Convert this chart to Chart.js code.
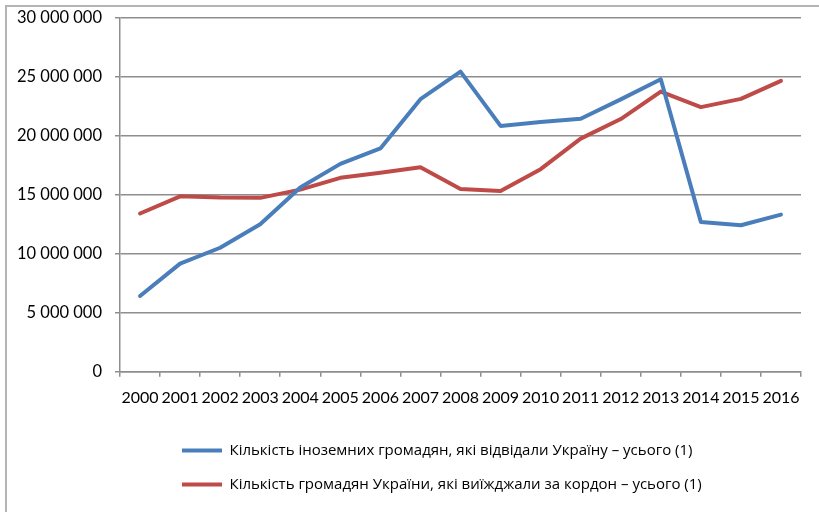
<!DOCTYPE html>
<html>
<head>
<meta charset="utf-8">
<script src="https://cdn.jsdelivr.net/npm/chart.js@4.4.1/dist/chart.umd.min.js"></script>
<style>
  html, body { margin: 0; padding: 0; background: #ffffff; }
  #frame { position: absolute; left: 5px; top: 5px; width: 820px; height: 520px;
           border-top: 2px solid #b4b4b4; border-left: 2px solid #b4b4b4; box-sizing: border-box; }
  #wrap { position: absolute; left: 0; top: 0; width: 819px; height: 512px; }
</style>
</head>
<body>
<div id="frame"></div>
<div id="wrap"><canvas id="chart" width="819" height="512"></canvas></div>
<script>
// Years on the category axis
const years = ['2000','2001','2002','2003','2004','2005','2006','2007','2008',
               '2009','2010','2011','2012','2013','2014','2015','2016'];

// Foreign citizens who visited Ukraine, total
const foreignVisitors = [6430000, 9170000, 10520000, 12510000, 15630000, 17630000, 18940000,
                         23120000, 25450000, 20850000, 21180000, 21460000, 23100000, 24800000,
                         12710000, 12430000, 13330000];

// Citizens of Ukraine who travelled abroad, total
const travelledAbroad = [13420000, 14880000, 14770000, 14750000, 15450000, 16450000, 16880000,
                         17340000, 15500000, 15330000, 17180000, 19770000, 21430000, 23760000,
                         22440000, 23140000, 24670000];

const seriesNames = [
  'Кількість іноземних громадян, які відвідали Україну – усього (1)',
  'Кількість громадян України, які виїжджали за кордон – усього (1)'
];

// Value axis ticks
const yTicks = [0, 5000000, 10000000, 15000000, 20000000, 25000000, 30000000];

const BLUE = '#4a7ebb';
const RED = '#be4b48';
const GRID = '#8e8e8e';
const LEGEND_INSET = 163;
const PLOT_TOP = 18;

function spaced(v) {
  return String(v).replace(/\B(?=(\d{3})+(?!\d))/g, ' ');
}

// Moves the legend block so both rows start at the same left edge
const legendInset = {
  id: 'legendInset',
  afterLayout(chart) {
    if (chart.legend) { chart.legend.left = LEGEND_INSET; }
  }
};

new Chart(document.getElementById('chart'), {
  type: 'line',
  data: {
    labels: years,
    datasets: [
      { label: seriesNames[0], data: foreignVisitors, borderColor: BLUE, backgroundColor: BLUE,
        borderWidth: 4, pointRadius: 0, tension: 0, borderJoinStyle: 'round', borderCapStyle: 'round' },
      { label: seriesNames[1], data: travelledAbroad, borderColor: RED, backgroundColor: RED,
        borderWidth: 4, pointRadius: 0, tension: 0, borderJoinStyle: 'round', borderCapStyle: 'round' }
    ]
  },
  options: {
    responsive: false,
    animation: false,
    layout: { padding: { left: 4, top: 0, right: 18, bottom: 10 } },
    scales: {
      x: {
        offset: true,
        grid: { drawOnChartArea: false, offset: true, tickLength: 5, color: GRID, lineWidth: 1.5 },
        border: { color: GRID, width: 1.5 },
        ticks: { color: '#000', padding: 11, maxRotation: 0, autoSkip: false,
                 font: { family: 'Lato', size: 16 } },
        afterFit(scale) { scale.height += 6; }
      },
      y: {
        min: 0, max: 30000000,
        afterBuildTicks(scale) { scale.ticks = yTicks.map(v => ({ value: v })); },
        grid: { tickLength: 5, color: GRID, lineWidth: 1.5 },
        border: { color: GRID, width: 1.5 },
        ticks: { color: '#000', padding: 13, font: { family: 'Lato', size: 16.5 },
                 callback: v => spaced(v) },
        afterFit(scale) { scale.paddingTop = PLOT_TOP; }
      }
    },
    plugins: {
      legend: {
        position: 'bottom',
        align: 'start',
        labels: {
          usePointStyle: true, pointStyle: 'line', pointStyleWidth: 40,
          padding: 19, color: '#000',
          font: { family: 'Open Sans', size: 15 }
        }
      },
      tooltip: { enabled: false }
    }
  },
  plugins: [legendInset]
});
</script>
</body>
</html>
